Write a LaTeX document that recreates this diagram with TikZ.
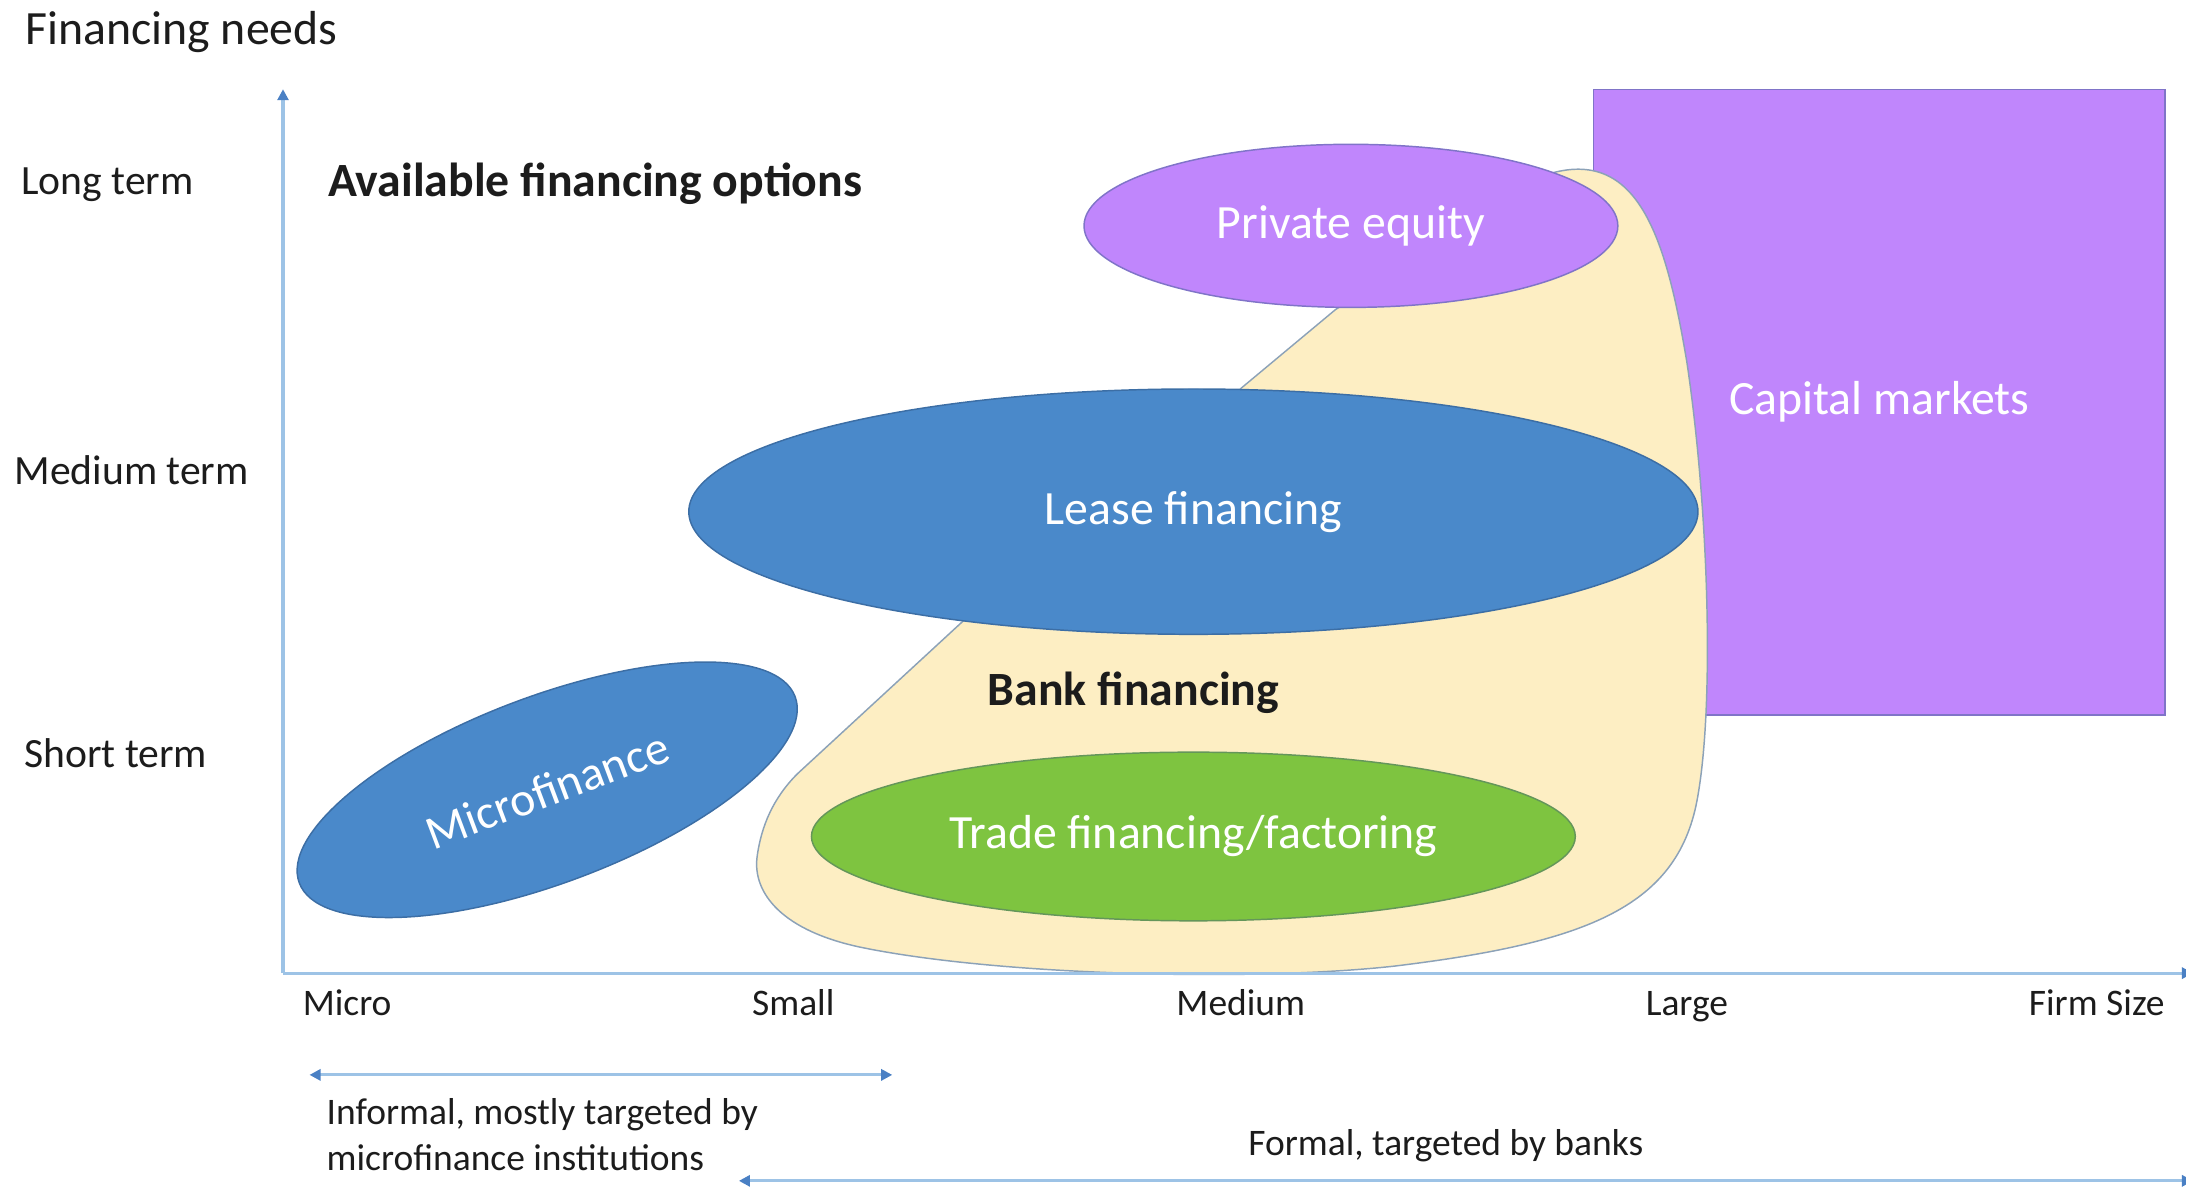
\documentclass[tikz,border=0pt]{standalone}
\usepackage{fontspec}
\setmainfont{Carlito}
\usetikzlibrary{shapes.geometric, arrows.meta}
\definecolor{axisblue}{RGB}{157,195,230}
\definecolor{tipblue}{RGB}{74,128,196}
\definecolor{leaseblue}{RGB}{74,137,202}
\definecolor{edgeblue}{RGB}{60,110,165}
\definecolor{pefill}{RGB}{192,134,252}
\definecolor{peedge}{RGB}{128,116,200}
\definecolor{tradegreen}{RGB}{126,196,64}
\definecolor{tradeedge}{RGB}{100,150,90}
\definecolor{bankfill}{RGB}{253,238,195}
\definecolor{bankedge}{RGB}{140,162,184}
\definecolor{labelgray}{RGB}{28,28,28}
\tikzset{
    blob/.style = {draw, ellipse, inner sep=0pt, text=white, align=center, line width=0.6pt},
    axisline/.style = {draw=axisblue, line width=1.3pt},
    tip/.style = {-{Triangle[length=4.5pt, width=4.5pt, color=tipblue]}},
    spanarrow/.style = {axisline, {Triangle[length=4.5pt, width=4.5pt, color=tipblue]}-{Triangle[length=4.5pt, width=4.5pt, color=tipblue]}}
}

\begin{document}
\begin{tikzpicture}[
    x=0.02cm, y=-0.02cm,
    font=\fontsize{19.5}{23.5}\selectfont,
    every node/.append style={text=labelgray},
    termlabel/.style={anchor=west, inner sep=0pt, text height=1.55ex, text depth=0.45ex, font=\fontsize{17}{20.5}\selectfont},
    sizelabel/.style={inner sep=0pt, text height=1.55ex, text depth=0.45ex, font=\fontsize{15.3}{18.8}\selectfont},
    heading/.style={inner sep=0pt, font=\fontsize{19.5}{23.5}\selectfont\bfseries}
]
    \useasboundingbox (0,0) rectangle (1568,852);

    % Capital markets block
    \node[draw=peedge, fill=pefill, rectangle, line width=0.6pt, text=white,
          minimum width=8.2cm, minimum height=8.98cm] (capital) at (1348,288.5) {Capital markets};

    % Bank financing region (runs behind the ellipses)
    \draw[fill=bankfill, draw=bankedge, line width=0.6pt]
        (1110,125) .. controls (1175,105) and (1195,170) .. (1210,260)
        .. controls (1225,360) and (1230,500) .. (1218,570)
        .. controls (1205,650) and (1140,676) .. (1000,693)
        .. controls (900,704) and (720,700) .. (620,680)
        .. controls (560,668) and (540,640) .. (543,615)
        .. controls (546,592) and (555,572) .. (572,555)
        -- (700,437) -- (958,222) -- cycle;
    \node[heading] (bank) at (813,497) {Bank financing};

    % Financing options
    \node[blob, fill=pefill, draw=peedge, minimum width=7.66cm, minimum height=2.34cm] (equity) at (969,162) {Private equity};
    \node[blob, fill=leaseblue, draw=edgeblue, minimum width=14.48cm, minimum height=3.52cm] (lease) at (856,367) {Lease financing};
    \node[blob, fill=tradegreen, draw=tradeedge, minimum width=10.96cm, minimum height=2.42cm] (trade) at (856,600) {Trade financing/factoring};
    \node[blob, fill=leaseblue, draw=edgeblue, minimum width=7.6cm, minimum height=2.68cm, rotate=20.6] (micro) at (392.5,566.5) {Microfinance};

    % Axes
    \coordinate (O) at (203,698);
    \coordinate (ytop) at (203,64);
    \coordinate (xend) at (1573,698);
    \draw[axisline, tip] (O) -- (ytop);
    \draw[axisline, tip] (O) -- (xend);

    \node[anchor=west, inner sep=0pt] (needs) at (18,23) {Financing needs};
    \node[termlabel] (long) at (15,135) {Long term};
    \node[termlabel] (medium) at (10,343) {Medium term};
    \node[termlabel] (short) at (17,546) {Short term};
    \node[heading, anchor=west] (options) at (235,132) {Available financing options};

    % Firm size ticks
    \node[sizelabel] (tmicro) at (249,724) {Micro};
    \node[sizelabel] (tsmall) at (569,724) {Small};
    \node[sizelabel] (tmedium) at (890,724) {Medium};
    \node[sizelabel] (tlarge) at (1210,724) {Large};
    \node[sizelabel] (tfirm) at (1504,724) {Firm Size};

    % Informal / formal ranges
    \coordinate (infL) at (222,771);
    \coordinate (infR) at (640,771);
    \draw[spanarrow] (infL) -- (infR);
    \node[sizelabel, text height=, text depth=, anchor=west, align=left] (informal) at (234,814) {Informal, mostly targeted by\\microfinance institutions};

    \coordinate (formL) at (530,847);
    \coordinate (formR) at (1573,847);
    \draw[spanarrow] (formL) -- (formR);
    \node[sizelabel] (formal) at (1037,824) {Formal, targeted by banks};

\end{tikzpicture}
\end{document}
